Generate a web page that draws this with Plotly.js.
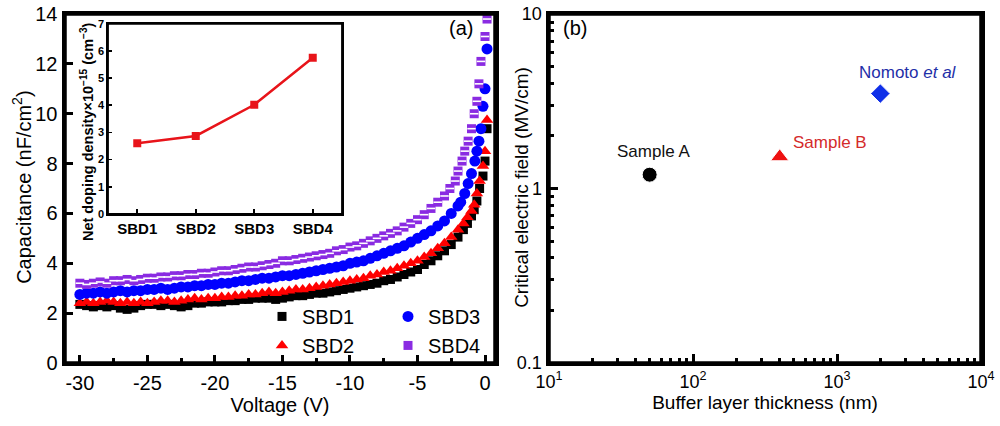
<!DOCTYPE html>
<html><head><meta charset="utf-8">
<script src="https://cdn.plot.ly/plotly-3.0.1.min.js"></script>
<style>html,body{margin:0;padding:0;background:#fff}#chart{width:1000px;height:426px}</style>
</head><body><div id="chart"></div>
<script>
// ---------- Panel (a): C-V data ----------
const vFlat = [-30,-29.5,-29,-28.5,-28,-27.5,-27,-26.5,-26,-25.5,-25,-24.5,-24,-23.5,-23,-22.5,-22,-21.5,-21,-20.5,-20,-19.5,-19,-18.5,-18,-17.5,-17,-16.5,-16,-15.5,-15,-14.5,-14,-13.5,-13,-12.5,-12,-11.5,-11,-10.5,-10,-9.5,-9,-8.5,-8,-7.5,-7,-6.5,-6,-5.5,-5];
const tailA = [-4.5,-4,-3.5,-3,-2.5,-2,-1.6,-1.3,-1.0,-0.8,-0.6,-0.4,-0.15,0,0.15];
const tailB = [-4.5,-4,-3.5,-3,-2.5,-2,-1.8,-1.5,-1.25,-1.0,-0.75,-0.6,-0.45,-0.3,-0.15,0,0.15];
const tailC = [-4.5,-4,-3.5,-3,-2.6,-2.2,-2.0,-1.7,-1.5,-1.25,-1.0,-0.8,-0.6,-0.45,-0.3,0,0.15];

const sbd1Flat = [2.35,2.3,2.25,2.3,2.25,2.3,2.2,2.15,2.2,2.3,2.35,2.35,2.3,2.35,2.3,2.25,2.3,2.4,2.4,2.45,2.45,2.45,2.5,2.5,2.55,2.55,2.6,2.6,2.6,2.55,2.6,2.65,2.7,2.7,2.75,2.8,2.8,2.85,2.9,2.95,3.0,3.05,3.1,3.15,3.2,3.3,3.35,3.45,3.55,3.65,3.75];
const sbd1Tail = [3.95,4.1,4.3,4.5,4.75,5.05,5.35,5.6,5.9,6.15,6.5,7.0,7.5,8.1,9.4];

const sbd2Flat = [2.4,2.45,2.4,2.45,2.5,2.45,2.4,2.45,2.4,2.45,2.4,2.45,2.5,2.5,2.45,2.5,2.55,2.6,2.55,2.6,2.6,2.65,2.65,2.7,2.7,2.75,2.75,2.8,2.85,2.8,2.85,2.9,2.95,2.95,3.0,3.05,3.1,3.15,3.2,3.25,3.3,3.35,3.4,3.5,3.55,3.65,3.7,3.8,3.9,4.0,4.1];
const sbd2Tail = [4.25,4.4,4.6,4.8,5.05,5.35,5.6,5.85,6.1,6.35,6.8,7.3,7.9,8.5,9.75];

const sbd3Flat = [2.75,2.8,2.8,2.85,2.8,2.85,2.9,2.85,2.9,2.9,2.95,2.95,3.0,2.95,3.0,3.05,3.05,3.1,3.1,3.15,3.15,3.2,3.2,3.25,3.3,3.3,3.35,3.4,3.4,3.45,3.5,3.5,3.55,3.6,3.65,3.7,3.75,3.8,3.85,3.9,4.0,4.05,4.1,4.2,4.3,4.4,4.5,4.6,4.7,4.85,5.0];
const sbd3Tail = [5.15,5.3,5.5,5.7,6.0,6.3,6.45,6.8,7.2,7.6,8.1,8.5,8.9,9.4,10.3,11.0,12.6];

const sbd4Flat = [3.2,3.15,3.2,3.25,3.2,3.3,3.3,3.35,3.3,3.35,3.4,3.4,3.45,3.45,3.5,3.5,3.55,3.55,3.6,3.6,3.65,3.7,3.7,3.75,3.8,3.85,3.85,3.9,3.95,4.0,4.1,4.1,4.15,4.2,4.25,4.3,4.35,4.4,4.5,4.55,4.65,4.7,4.8,4.9,5.0,5.1,5.2,5.3,5.45,5.6,5.75];
const sbd4Tail = [5.95,6.2,6.45,6.7,7.0,7.3,7.7,8.1,8.5,8.9,9.4,10.0,10.5,11.2,12.1,13.1,13.8];

const vTicks = [-30,-25,-20,-15,-10,-5,0];
const vTickText = ['-30','-25','-20','-15','-10','-5','0'];

// ---------- Inset ----------
const insetCats = ['SBD1','SBD2','SBD3','SBD4'];
const dopingDensity = [2.6,2.87,4.02,5.75];

// ---------- Panel (b) ----------
const sampleNames = ['Sample A','Sample B','Nomoto <i>et al</i>'];
const bufferThickness = [50,400,2000];
const criticalField = [1.2,1.52,3.5];
const sampleColors = ['#000000','#ee1111','#1030e8'];
const sampleSymbols = ['circle','triangle-up','diamond'];
const labelColors = ['#111111','#d42a2a','#1f2fa8'];
const xbTicks = [10,100,1000,10000];
const xbTickText = ['10<sup>1</sup>','10<sup>2</sup>','10<sup>3</sup>','10<sup>4</sup>'];
const ybTicks = [0.1,1,10];
const ybTickText = ['0.1','1','10'];

const FONT = 'Liberation Sans, Arial, sans-serif';
const PURPLE = '#8a2be2';

const sbd4X = vFlat.concat(tailC), sbd4Y = sbd4Flat.concat(sbd4Tail);
const traces = [
  {x: vFlat.concat(tailA), y: sbd1Flat.concat(sbd1Tail), name:'SBD1', type:'scatter', mode:'markers',
   marker:{symbol:'square', size:9, color:'#000'}, xaxis:'x', yaxis:'y', legend:'legend'},
  {x: vFlat.concat(tailA), y: sbd2Flat.concat(sbd2Tail), name:'SBD2', type:'scatter', mode:'markers',
   marker:{symbol:'triangle-up', size:11, color:'#ff0000'}, xaxis:'x', yaxis:'y', legend:'legend'},
  {x: vFlat.concat(tailB), y: sbd3Flat.concat(sbd3Tail), name:'SBD3', type:'scatter', mode:'markers',
   marker:{symbol:'circle', size:11, color:'#0000ff'}, xaxis:'x', yaxis:'y', legend:'legend2'},
  {x: sbd4X, y: sbd4Y, name:'SBD4', type:'scatter', mode:'markers',
   marker:{symbol:'square', size:9, color:PURPLE, line:{width:0}}, xaxis:'x', yaxis:'y', legend:'legend2'},
  {x: sbd4X, y: sbd4Y, name:'SBD4', type:'scatter', mode:'markers', showlegend:false,
   marker:{symbol:'line-ew', size:6, line:{width:1.6, color:'#ffffff'}}, xaxis:'x', yaxis:'y'},
  {x: insetCats, y: dopingDensity, type:'scatter', mode:'lines+markers', showlegend:false,
   line:{color:'#e8141a', width:2.5}, marker:{symbol:'square', size:8, color:'#e8141a'}, xaxis:'x3', yaxis:'y3'},
  {x: bufferThickness, y: criticalField, type:'scatter', mode:'markers', showlegend:false,
   marker:{symbol:sampleSymbols, size:[15,16,15], color:sampleColors, opacity:1}, xaxis:'x2', yaxis:'y2'}
];

const axBase = {showline:true, mirror:true, linecolor:'#000', showgrid:false, zeroline:false,
  ticks:'inside', tickcolor:'#000', tickfont:{family:FONT, size:20, color:'#000'}};

const labelPos = [
  {x:1.729, y:0.212, xanchor:'center'},
  {x:2.681, y:0.261, xanchor:'left'},
  {x:3.139, y:0.665, xanchor:'left'}
];

const annotations = [
  {xref:'paper', yref:'paper', x:0.461, y:0.934, xanchor:'center', yanchor:'middle', text:'(a)', showarrow:false, font:{family:FONT, size:20, color:'#000'}},
  {xref:'paper', yref:'paper', x:0.575, y:0.934, xanchor:'center', yanchor:'middle', text:'(b)', showarrow:false, font:{family:FONT, size:20, color:'#000'}},
  {xref:'paper', yref:'paper', x:0.022, y:0.559, xanchor:'center', yanchor:'middle', textangle:-90, text:'Capacitance (nF/cm<sup>2</sup>)', showarrow:false, font:{family:FONT, size:20, color:'#000'}},
  {xref:'paper', yref:'paper', x:0.522, y:0.559, xanchor:'center', yanchor:'middle', textangle:-90, text:'Critical electric field (MV/cm)', showarrow:false, font:{family:FONT, size:19, color:'#000'}},
  {xref:'paper', yref:'paper', x:0.087, y:0.69, xanchor:'center', yanchor:'middle', textangle:-90, text:'<b>Net doping density×10<sup>−15</sup> (cm<sup>−3</sup>)</b>', showarrow:false, font:{family:FONT, size:14.5, color:'#000'}}
].concat(sampleNames.map((t,i)=>({xref:'x2', yref:'y2', x:labelPos[i].x, y:labelPos[i].y, xanchor:labelPos[i].xanchor, yanchor:'middle',
  text:t, showarrow:false, font:{family:FONT, size:17, color:labelColors[i]}})));

const frame = (xr, yr, w) => ({type:'rect', xref:xr+' domain', yref:yr+' domain', x0:0, x1:1, y0:0, y1:1,
  line:{width:w, color:'#000'}, fillcolor:'rgba(0,0,0,0)', layer:'above'});

const layout = {
  width:1000, height:426, margin:{l:0, r:0, t:0, b:0},
  paper_bgcolor:'#fff', plot_bgcolor:'rgba(0,0,0,0)',
  font:{family:FONT, color:'#000', size:20},
  xaxis: Object.assign({}, axBase, {domain:[0.065,0.495], anchor:'y', range:[-31.1,0.74], linewidth:3.5,
    tickvals:vTicks, ticktext:vTickText, ticklen:8, tickwidth:3,
    minor:{ticks:'inside', ticklen:5, tickwidth:3, dtick:2.5, tick0:0, tickcolor:'#000'},
    title:{text:'Voltage (V)', font:{family:FONT, size:20, color:'#000'}, standoff:0}}),
  yaxis: Object.assign({}, axBase, {domain:[0.148,0.967], anchor:'x', range:[0,14], dtick:2, linewidth:3.5,
    ticklen:8, tickwidth:3}),
  xaxis2: Object.assign({}, axBase, {domain:[0.549,0.981], anchor:'y2', type:'log', range:[1,4], linewidth:3.5,
    tickvals:xbTicks, ticktext:xbTickText, ticklen:9, tickwidth:3, tickfont:{family:FONT, size:18, color:'#000'},
    minor:{ticks:'inside', ticklen:5, tickwidth:3, dtick:'D1', tickcolor:'#000'},
    title:{text:'Buffer layer thickness (nm)', font:{family:FONT, size:19, color:'#000'}, standoff:4}}),
  yaxis2: Object.assign({}, axBase, {domain:[0.148,0.967], anchor:'x2', type:'log', range:[-1,1], linewidth:3.5,
    tickvals:ybTicks, ticktext:ybTickText, ticklen:9, tickwidth:3, tickfont:{family:FONT, size:18, color:'#000'},
    minor:{ticks:'inside', ticklen:5, tickwidth:3, dtick:'D1', tickcolor:'#000'}}),
  xaxis3: Object.assign({}, axBase, {domain:[0.108,0.342], anchor:'y3', type:'category', range:[-0.5,3.5], linewidth:1.8,
    ticklen:5, tickwidth:1.8, tickfont:{family:FONT, size:15, color:'#000', weight:'bold'}}),
  yaxis3: Object.assign({}, axBase, {domain:[0.498,0.944], anchor:'x3', range:[0,7], dtick:1, linewidth:1.8,
    ticklen:4, tickwidth:1.8, tickfont:{family:FONT, size:11, color:'#000', weight:'bold'}}),
  legend:{x:0.262, y:0.303, xanchor:'left', yanchor:'top', bgcolor:'rgba(0,0,0,0)', font:{family:FONT, size:20, color:'#000'}, itemwidth:30, tracegroupgap:0},
  legend2:{x:0.388, y:0.303, xanchor:'left', yanchor:'top', bgcolor:'rgba(0,0,0,0)', font:{family:FONT, size:20, color:'#000'}, itemwidth:30, tracegroupgap:0},
  shapes:[frame('x','y',3.5), frame('x2','y2',3.5), frame('x3','y3',1.8)],
  annotations: annotations,
  showlegend:true
};

Plotly.newPlot('chart', traces, layout, {staticPlot:true, displayModeBar:false});
</script>
</body></html>
